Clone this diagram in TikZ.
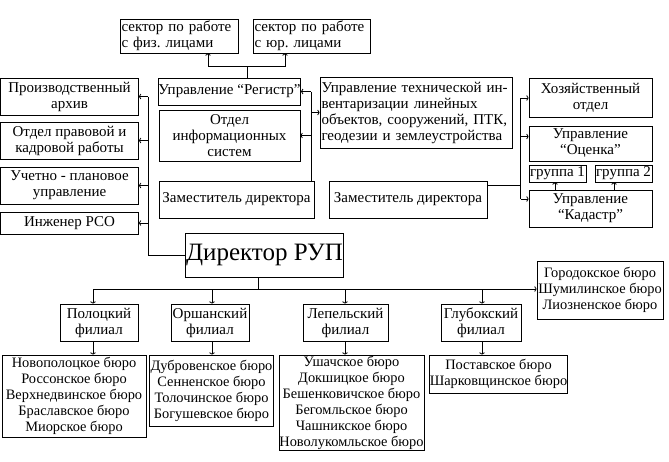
\documentclass[tikz,border=0pt]{standalone}
\usepackage{fontspec}
\setmainfont{Liberation Serif}
\usetikzlibrary{arrows.meta}
\frenchspacing

\begin{document}
\begin{tikzpicture}[
  x = 1pt, y = -1pt,
  line width = 0.8pt,
  every node/.style = {font = \fontsize{15}{16}\selectfont},
  box/.style = {draw, inner sep = 1pt, align = center},
  lbox/.style = {draw, inner sep = 1.5pt, align = left},
  burbox/.style = {box, inner sep = 0pt, font = \fontsize{14.4}{16}\selectfont},
  arr/.style = {-{Straight Barb[length=1.5pt,width=5pt]}},
]
\useasboundingbox (0,0) rectangle (669,461);

% верхние сектора
\node[lbox, minimum width=118, minimum height=34, text width=115] (sfiz) at (179,36)
  {сектор по работе\\с физ. лицами};
\node[lbox, minimum width=117, minimum height=34, text width=114] (syur) at (311.5,36)
  {сектор по работе\\с юр. лицами};

% центральный блок
\node[box, inner sep=0pt, minimum width=141, minimum height=27] (reg) at (229.5,91.5) {Управление “Регистр”};
\node[box, minimum width=141, minimum height=51] (info) at (229.5,135.5)
  {Отдел\\информационных\\систем};
\node[box, minimum width=155, minimum height=37] (zam1) at (236.5,199.5) {Заместитель директора};
\node[lbox, minimum width=192, minimum height=71, text width=189] (tech) at (416,112.5)
  {Управление технической ин-\\вентаризации линейных\\объектов, сооружений, ПТК,\\геодезии и землеустройства};
\node[box, minimum width=158, minimum height=37] (zam2) at (408,199.5) {Заместитель директора};

% правый блок
\node[box, minimum width=123, minimum height=39] (khoz) at (590.5,97.5) {Хозяйственный\\отдел};
\node[box, minimum width=123, minimum height=35] (ots) at (590.5,143.5) {Управление\\“Оценка”};
\node[box, minimum width=57, minimum height=17, inner sep=0pt] (gr1) at (557.5,173.5) {группа 1};
\node[box, minimum width=57, minimum height=17, inner sep=0pt] (gr2) at (623.5,173.5) {группа 2};
\node[box, minimum width=123, minimum height=37] (kad) at (590.5,208.5) {Управление\\“Кадастр”};

% левый блок
\node[box, minimum width=138, minimum height=37] (arch) at (69.5,96.5) {Производственный\\архив};
\node[box, minimum width=138, minimum height=37] (prav) at (69.5,140.5) {Отдел правовой и\\кадровой работы};
\node[box, minimum width=138, minimum height=37] (uch) at (69.5,185.5) {Учетно - плановое\\управление};
\node[box, minimum width=138, minimum height=22] (inzh) at (69.5,223) {Инженер РСО};

% директор
\node[box, minimum width=157, minimum height=44, font=\fontsize{25}{28}\selectfont] (dir) at (264.5,255)
  {Директор РУП};

% филиалы
\node[box, minimum width=78, minimum height=37] (pol) at (99,322.5) {Полоцкий\\филиал};
\node[box, minimum width=78, minimum height=37] (ors) at (210,322.5) {Оршанский\\филиал};
\node[box, minimum width=85, minimum height=37] (lep) at (345.5,322.5) {Лепельский\\филиал};
\node[box, minimum width=80, minimum height=37] (glu) at (481,322.5) {Глубокский\\филиал};
\node[burbox, minimum width=126, minimum height=58] (gor) at (600,290)
  {Городокское бюро\\Шумилинское бюро\\Лиозненское бюро};

% бюро
\node[burbox, minimum width=144, minimum height=82] (polb) at (74,396)
  {Новополоцкое бюро\\Россонское бюро\\Верхнедвинское бюро\\Браславское бюро\\Миорское бюро};
\node[burbox, minimum width=124, minimum height=71] (orsb) at (211.5,390.5)
  {Дубровенское бюро\\Сенненское бюро\\Толочинское бюро\\Богушевское бюро};
\node[burbox, minimum width=145, minimum height=95] (lepb) at (351.5,402.5)
  {Ушачское бюро\\Докшицкое бюро\\Бешенковичское бюро\\Бегомльское бюро\\Чашникское бюро\\Новолукомльское бюро};
\node[burbox, minimum width=137, minimum height=38] (glub) at (498.5,374)
  {Поставское бюро\\Шарковщинское бюро};

% шины
\coordinate (lbus) at (148,0);
\coordinate (mbus) at (311,0);
\coordinate (rbus) at (520.5,0);
\coordinate (bbus) at (0,289);
\coordinate (sj) at (247,66);

\draw (reg.north -| sj) -- (sj);
\draw[arr] (sj) -| (sfiz.south -| 208,0);
\draw[arr] (sj) -| (syur.south -| 285,0);

\draw (dir.west) -| (arch.east -| lbus);
\foreach \n in {arch,prav,uch,inzh}
  \draw[arr] (\n.east -| lbus) -- (\n.east);

\draw (zam1.north -| mbus) -- (reg.east -| mbus);
\draw[arr] (reg.east -| mbus) -- (reg.east);
\draw[arr] (info.east -| mbus) -- (info.east);
\draw[arr] (tech.west -| mbus) -- (tech.west);

\draw (zam2.east |- 0,185) -- (rbus |- 0,185);
\draw (rbus |- 0,98) -- (rbus |- 0,199);
\draw[arr] (rbus |- 0,98) -- (khoz.west |- 0,98);
\draw[arr] (rbus |- 0,136.5) -- (ots.west |- 0,136.5);
\draw[arr] (rbus |- 0,199) -- (kad.west |- 0,199);
\draw[arr] (kad.north -| 555,0) -- (gr1.south -| 555,0);
\draw[arr] (kad.north -| 614,0) -- (gr2.south -| 614,0);

\draw (dir.south -| 258,0) -- (bbus -| 258,0);
\draw[arr] (bbus -| 93,0) -- (gor.west |- bbus);
\foreach \n/\xx in {pol/93,ors/212,lep/345,glu/482}
  \draw[arr] (bbus -| \xx,0) -- (\n.north -| \xx,0);
\foreach \n/\xx in {pol/93,ors/212,lep/345,glu/482}
  \draw[arr] (\n.south -| \xx,0) -- (\n b.north -| \xx,0);

\end{tikzpicture}
\end{document}
